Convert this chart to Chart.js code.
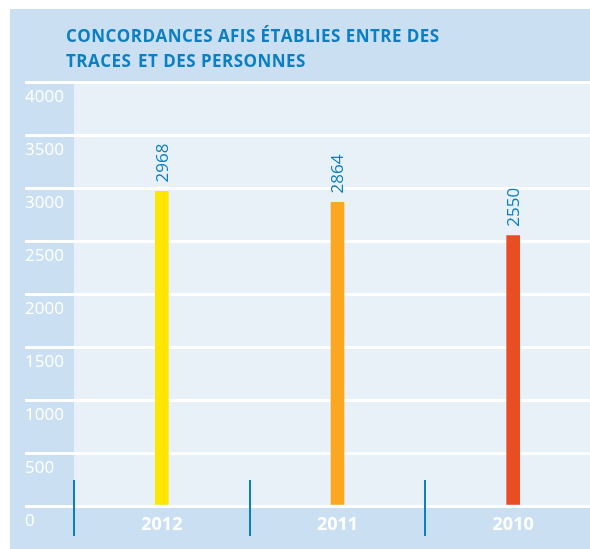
<!DOCTYPE html>
<html>
<head>
<meta charset="utf-8">
<script src="https://cdn.jsdelivr.net/npm/chart.js@4.4.0/dist/chart.umd.min.js"></script>
<style>
  html, body { margin: 0; padding: 0; background: #fff; overflow: hidden; }
  #wrap { position: relative; width: 590px; height: 549px; overflow: hidden; }
  #chart { position: absolute; left: 0; top: 0; }
  #title {
    position: absolute; left: 66px; top: 23px;
    font-family: "Open Sans", sans-serif; font-weight: 700;
    font-size: 17px; line-height: 25px; color: #0b7fc4;
    letter-spacing: 0.45px; white-space: nowrap;
  }
</style>
</head>
<body>
<div id="wrap">
  <canvas id="chart" width="601" height="549"></canvas>
  <div id="title">CONCORDANCES AFIS ÉTABLIES ENTRE DES<br>TRACES <span style="margin-left:2px">ET DES PERSONNES</span></div>
</div>
<script>
// data
const categories = ['2012', '2011', '2010'];
const values = [2968, 2864, 2550];
const barColors = ['#ffe600', '#faa81f', '#e84d24'];
const yTickValues = [0, 500, 1000, 1500, 2000, 2500, 3000, 3500, 4000];

const BLUE = '#0b7fc4';
const PANEL = '#cadff1';
const PLOT = '#e8f0f8';

// panel + plot backgrounds
const backdrop = {
  id: 'backdrop',
  beforeDraw(chart) {
    const { ctx, chartArea: a } = chart;
    ctx.save();
    ctx.fillStyle = '#fff';
    ctx.fillRect(0, 0, chart.width, chart.height);
    ctx.fillStyle = PANEL;
    ctx.fillRect(10, 9, chart.width - 10, chart.height - 9);
    ctx.fillStyle = PLOT;
    ctx.fillRect(a.left, a.top, a.right - a.left, a.bottom - a.top);
    ctx.restore();
  }
};

// rotated value labels and the blue dividers between categories
const extras = {
  id: 'extras',
  afterDraw(chart) {
    const { ctx } = chart;
    const xs = chart.scales.x;
    const meta = chart.getDatasetMeta(0);
    ctx.save();
    ctx.fillStyle = BLUE;
    ctx.font = '17px "Open Sans", sans-serif';
    ctx.textAlign = 'left';
    ctx.textBaseline = 'middle';
    meta.data.forEach((bar, i) => {
      ctx.save();
      ctx.translate(bar.x + 1, bar.y - 9);
      ctx.rotate(-Math.PI / 2);
      ctx.fillText(String(values[i]), 0, 0);
      ctx.restore();
    });
    const step = xs.getPixelForValue(1) - xs.getPixelForValue(0);
    ctx.strokeStyle = BLUE;
    ctx.lineWidth = 2;
    for (let i = 0; i < categories.length; i++) {
      const x = Math.round(xs.getPixelForValue(i) - step / 2);
      ctx.beginPath();
      ctx.moveTo(x, 480);
      ctx.lineTo(x, 536);
      ctx.stroke();
    }
    ctx.restore();
  }
};

new Chart(document.getElementById('chart'), {
  type: 'bar',
  data: {
    labels: categories,
    datasets: [{
      data: values,
      backgroundColor: barColors,
      barThickness: 13
    }]
  },
  options: {
    responsive: false,
    animation: false,
    layout: { padding: { left: 25, top: 82, right: 0, bottom: 0 } },
    plugins: { legend: { display: false }, tooltip: { enabled: false } },
    scales: {
      x: {
        grid: { display: false },
        border: { display: false },
        ticks: {
          color: '#fff',
          font: { family: 'Open Sans', size: 18, weight: 'bold' },
          padding: 0,
          maxRotation: 0
        },
        afterFit(scale) { scale.height = 43; }
      },
      y: {
        min: 0,
        max: 4000,
        afterBuildTicks(scale) { scale.ticks = yTickValues.map(v => ({ value: v })); },
        grid: { color: '#fff', lineWidth: 3, tickLength: 49, drawTicks: true },
        border: { display: false },
        ticks: {
          color: '#fff',
          font: { family: 'Open Sans', size: 17 },
          crossAlign: 'far',
          labelOffset: 15,
          padding: 0,
          callback: v => String(v)
        },
        afterFit(scale) { scale.width = 49; }
      }
    }
  },
  plugins: [backdrop, extras]
});
</script>
</body>
</html>
